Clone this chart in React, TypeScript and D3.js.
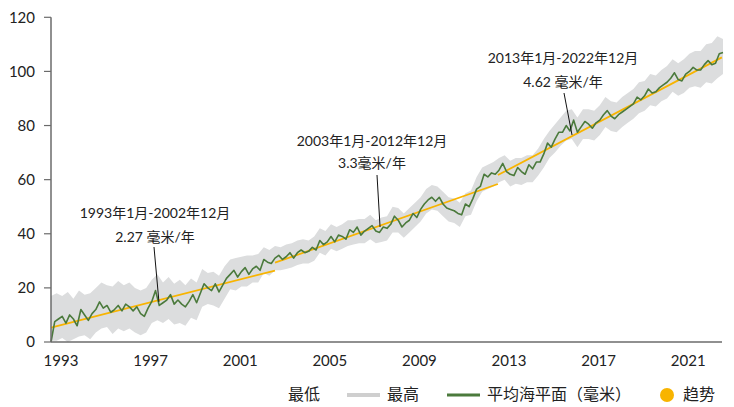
import React from 'react';
import * as d3 from 'd3';

// ---- data ----
const START_YEAR = 1993;
const MEAN_STEP = 1 / 6; // bi-monthly readings
const meanLevel = [
  0, 7.5, 8.5, 9.5, 7, 10,
  8.5, 6, 12, 10, 8, 10.5,
  12, 14.8, 12.5, 13.5, 11, 12,
  13.5, 11.5, 14, 13, 11.5, 13,
  10.5, 9.5, 12.5, 15, 19, 13.5,
  14.5, 15.5, 17.5, 14, 15.5, 14,
  13, 15, 17.5, 14.5, 18, 21.5,
  20, 19, 21.5, 18.5, 21, 23.5,
  25, 26.5, 24, 26, 27.5, 25,
  27, 28, 26.5, 30.5, 29.5, 29,
  31, 32, 30.5, 31.5, 33, 31,
  33, 34, 33, 33.5, 35, 34,
  37.5, 36, 37, 39, 37, 39.5,
  39, 38, 41.5, 40.5, 42.5, 39.5,
  41, 42, 43, 41, 40.5, 42.5,
  42, 43.5, 46.5, 45, 42.5, 44,
  45, 47.5, 46, 49, 51, 52.5,
  53.5, 52, 53.5, 51, 49.5, 49,
  48.5, 47.5, 47, 51, 50, 53,
  56.5, 57.5, 62, 61, 62.5, 62,
  63.5, 66, 63, 62, 61.5, 64.5,
  63, 62, 65.5, 64, 66.5, 66.5,
  69.5, 73.5, 72, 75, 77.5, 77.5,
  80, 78, 82, 77.5, 79.5, 81.5,
  80.5, 79, 81, 82, 84, 85.5,
  83.5, 82.5, 84, 85, 86, 87,
  88, 90.5, 89.5, 91, 93.5, 92,
  92.5, 94, 95, 96, 97.5, 99.5,
  97, 96.5, 99, 100, 101.5, 100.5,
  100.5, 102.5, 104, 102.5, 103, 106.5,
  107,
];

const BAND_STEP = 0.25; // quarterly readings
const bandHigh = [
  17, 18, 17, 18.5,
  16, 19, 17.5, 18,
  20, 22, 21, 20.5,
  22.5, 21, 22, 20,
  19, 20, 23, 25,
  22, 24, 21.5, 23,
  21, 23.5, 22, 27,
  25.5, 26, 24.5, 28,
  30.5, 31, 31.5, 32,
  32, 32.5, 35, 34,
  35.5, 35, 36, 36.5,
  37.5, 38, 37.5, 39,
  42, 41, 43.5, 42.5,
  43.5, 45, 45, 45.5,
  45.5, 47, 45, 46,
  46.5, 50, 49.5, 47.5,
  49.5, 51.5, 53.5, 56.5,
  58, 57.5, 55.5, 53.5,
  53, 51.5, 55, 56,
  61, 64.5, 65.5, 66.5,
  68, 69, 67, 68,
  68, 69, 69, 71.5,
  75, 78, 80.5, 83,
  85.5, 86, 83, 86,
  86, 85.5, 87.5, 90.5,
  89, 88.5, 90.5, 92,
  93.5, 96, 96.5, 99,
  98.5, 100.5, 102, 104.5,
  103, 104.5, 106.5, 107.5,
  107.5, 110, 110.5, 113,
  112,
];
const bandLow = [
  0.5, 0.5, 1.5, 0,
  1, 2, 2.5, 1,
  3.5, 5, 5.5, 3,
  5, 4, 5, 3.5,
  2.5, 3.5, 7, 8,
  7, 8.5, 6.5, 7,
  6, 9, 8, 13,
  14, 13.5, 12.5, 16,
  19.5, 19, 20.5, 20.5,
  22, 22, 25.5, 24.5,
  26.5, 26.5, 27, 27.5,
  28.5, 29, 29, 30,
  33, 32, 34.5, 33.5,
  34.5, 35.5, 36, 36.5,
  36.5, 38, 36.5, 37,
  37.5, 40.5, 40.5, 38.5,
  40.5, 42.5, 44.5, 47.5,
  49, 48.5, 46.5, 44.5,
  44, 42.5, 46.5, 47,
  52, 55.5, 56.5, 57.5,
  59, 60, 57.5, 58.5,
  58, 59, 59, 61.5,
  64.5, 68, 70, 72.5,
  74.5, 75, 72, 75,
  75, 74.5, 76.5, 79.5,
  78, 77.5, 79.5, 81,
  82.5, 84.5, 85.5, 87.5,
  87, 89, 90, 92.5,
  91, 92, 94, 94.5,
  94, 96, 95.5, 97.5,
  99,
];

const trendStartYear = [1993, 2003, 2012.95];
const trendEndYear = [2003, 2012.95, 2022.95];
const trendStartValue = [5.3, 29.3, 61.7];
const trendEndValue = [26.4, 58.4, 105.2];

const annotationPeriod = ['1993年1月-2002年12月', '2003年1月-2012年12月', '2013年1月-2022年12月'];
const annotationRate = ['2.27 毫米/年', '3.3毫米/年', '4.62 毫米/年'];
const annotationAnchorYear = [1997.82, 2007.69, 2016.26];
const annotationAnchorValue = [14.8, 42.5, 76.5];

const yTicks = [0, 20, 40, 60, 80, 100, 120];
const xTickYears = [1993, 1997, 2001, 2005, 2009, 2013, 2017, 2021];

const legendLabels = ['最低', '最高', '平均海平面（毫米）', '趋势'];

// ---- styles ----
const FONT = "Lato, 'Noto Sans CJK SC', 'Noto Sans', sans-serif";
const GREEN = '#4b7a3c';
const BAND = '#dcddde';
const ORANGE = '#f8b400';
const AXIS = '#6b6b6b';

export default function App() {
  const W = 734;
  const H = 407;
  const x = d3.scaleLinear().domain([1993, 2023]).range([51, 723]);
  const y = d3.scaleLinear().domain([0, 120]).range([342, 17.3]);

  const meanPts: [number, number][] = meanLevel.map((v, i) => [START_YEAR + i * MEAN_STEP, v]);
  const bandPts = bandHigh.map((h, i) => ({ t: START_YEAR + i * BAND_STEP, hi: h, lo: bandLow[i] }));

  const area = d3
    .area<{ t: number; hi: number; lo: number }>()
    .x((d) => x(d.t))
    .y0((d) => y(d.lo))
    .y1((d) => y(d.hi));
  const line = d3
    .line<[number, number]>()
    .x((d) => x(d[0]))
    .y((d) => y(d[1]));

  const annTextX = [155, 372, 563];
  const annLine1Y = [218, 146, 63];
  const annLine2Y = [242, 168, 87];
  const annTopY = [247, 175, 93];
  const annTopX = [154, 377, 564];

  return (
    <svg
      width={W}
      height={H}
      style={{ position: 'absolute', left: 0, top: 0, background: '#fff' }}
      fontFamily={FONT}
    >
      {/* band */}
      <path d={area(bandPts) || ''} fill={BAND} stroke="none" />
      {/* trend segments */}
      {trendStartYear.map((s, i) => (
        <line
          key={'tr' + i}
          x1={x(s)}
          y1={y(trendStartValue[i])}
          x2={x(trendEndYear[i])}
          y2={y(trendEndValue[i])}
          stroke={ORANGE}
          strokeWidth={1.8}
        />
      ))}
      {/* mean */}
      <path d={line(meanPts) || ''} fill="none" stroke={GREEN} strokeWidth={1.6} strokeLinejoin="round" />

      {/* axes */}
      <line x1={51} y1={y(120)} x2={51} y2={342} stroke={AXIS} strokeWidth={1.5} />
      <line x1={51} y1={342} x2={722} y2={342} stroke={AXIS} strokeWidth={1.5} />
      {yTicks.map((t) => (
        <g key={'yt' + t}>
          <line x1={44} x2={51} y1={y(t)} y2={y(t)} stroke={AXIS} strokeWidth={1.2} />
          <text x={35} y={y(t)} dy="0.35em" textAnchor="end" fontSize={15} fill="#222">
            {t}
          </text>
        </g>
      ))}
      {xTickYears.map((yr) => (
        <text key={'xt' + yr} x={x(yr) + 10} y={366} textAnchor="middle" fontSize={15} fill="#222">
          {yr}
        </text>
      ))}

      {/* annotations */}
      {annotationPeriod.map((p, i) => (
        <g key={'an' + i}>
          <line
            x1={annTopX[i]}
            y1={annTopY[i]}
            x2={x(annotationAnchorYear[i])}
            y2={y(annotationAnchorValue[i])}
            stroke="#111"
            strokeWidth={1}
          />
          <text x={annTextX[i]} y={annLine1Y[i]} textAnchor="middle" fontSize={14} fill="#222">
            {p}
          </text>
          <text x={annTextX[i]} y={annLine2Y[i]} textAnchor="middle" fontSize={14} fill="#222">
            {annotationRate[i]}
          </text>
        </g>
      ))}

      {/* legend */}
      <g fontSize={16} fill="#222">
        <text x={288} y={400}>{legendLabels[0]}</text>
        <line x1={347} x2={380} y1={395} y2={395} stroke="#cfcfcf" strokeWidth={4} />
        <text x={387} y={400}>{legendLabels[1]}</text>
        <line x1={447} x2={480} y1={395} y2={395} stroke={GREEN} strokeWidth={3} />
        <text x={487} y={400}>{legendLabels[2]}</text>
        <circle cx={667} cy={395} r={7} fill={ORANGE} />
        <text x={683} y={400}>{legendLabels[3]}</text>
      </g>
    </svg>
  );
}
